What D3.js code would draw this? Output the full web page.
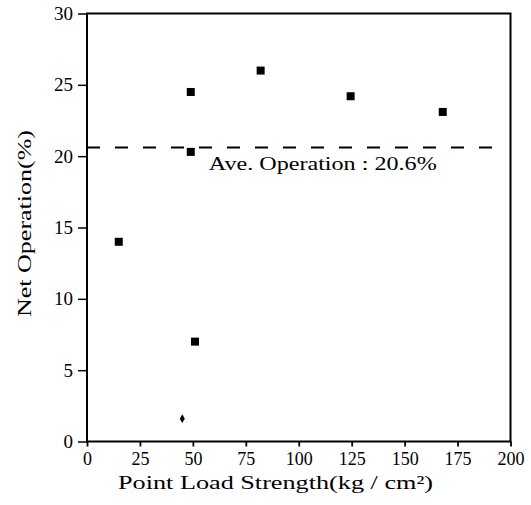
<!DOCTYPE html>
<html>
<head>
<meta charset="utf-8">
<script src="https://cdn.jsdelivr.net/npm/d3@7"></script>
<style>
  html, body { margin: 0; padding: 0; background: #fff; }
  svg { display: block; }
</style>
</head>
<body>
<script>
// Point load strength (kg/cm²) against net operation (%)
const strength = [15, 49, 82, 124.5, 168, 49, 51, 45];
const operation = [14, 24.5, 26, 24.2, 23.1, 20.3, 7, 1.6];
const markerShape = ["square", "square", "square", "square", "square", "square", "square", "diamond"];
const averageOperation = [20.6];
const xTicks = [0, 25, 50, 75, 100, 125, 150, 175, 200];
const yTicks = [0, 5, 10, 15, 20, 25, 30];

const FONT = "'Liberation Serif', 'Times New Roman', 'DejaVu Serif', serif";
const W = 531, H = 505;
const margin = { left: 87, right: 20.5, top: 13.5, bottom: 63.5 };

const svg = d3.select("body").append("svg")
  .attr("width", W).attr("height", H)
  .style("font-family", FONT);

const x = d3.scaleLinear().domain([0, 200]).range([margin.left, W - margin.right]);
const y = d3.scaleLinear().domain([0, 30]).range([H - margin.bottom, margin.top]);

// Frame
svg.append("rect")
  .attr("x", x(0)).attr("y", y(30))
  .attr("width", x(200) - x(0)).attr("height", y(0) - y(30))
  .attr("fill", "none").attr("stroke", "#000").attr("stroke-width", 2);

// X axis
const xAxis = svg.append("g")
  .attr("transform", `translate(0,${y(0)})`)
  .call(d3.axisBottom(x).tickValues(xTicks).tickSize(5).tickPadding(6).tickFormat(d3.format("d")))
  .attr("font-family", FONT).attr("font-size", 18);
xAxis.select(".domain").remove();
xAxis.selectAll("line").attr("stroke", "#000").attr("stroke-width", 1.8);
xAxis.selectAll("text").attr("fill", "#000");

// Y axis
const yAxis = svg.append("g")
  .attr("transform", `translate(${x(0)},0)`)
  .call(d3.axisLeft(y).tickValues(yTicks).tickSize(9).tickPadding(5).tickFormat(d3.format("d")))
  .attr("font-family", FONT).attr("font-size", 19);
yAxis.select(".domain").remove();
yAxis.selectAll("line").attr("stroke", "#000").attr("stroke-width", 1.5);
yAxis.selectAll("text").attr("fill", "#000");

// Average line
svg.append("line")
  .attr("x1", x(0)).attr("x2", x(193))
  .attr("y1", y(averageOperation[0])).attr("y2", y(averageOperation[0]))
  .attr("stroke", "#000").attr("stroke-width", 2)
  .attr("stroke-dasharray", "13,15");

svg.append("text")
  .attr("x", x(57.5)).attr("y", y(averageOperation[0]) + 22)
  .attr("font-family", FONT).attr("font-size", 18)
  .attr("textLength", 228).attr("lengthAdjust", "spacingAndGlyphs")
  .text(`Ave. Operation : ${averageOperation[0]}%`);

// Data points
const pts = strength.map((s, i) => ({ s, o: operation[i], shape: markerShape[i] }));
svg.append("g").selectAll("path")
  .data(pts)
  .join("path")
  .attr("transform", d => `translate(${x(d.s)},${y(d.o)})`)
  .attr("d", d => d.shape === "square"
    ? d3.symbol(d3.symbolSquare, 64)()
    : d3.symbol(d3.symbolDiamond, 22)())
  .attr("fill", "#000");

// Axis titles
svg.append("text")
  .attr("x", 118).attr("y", 489)
  .attr("font-family", FONT).attr("font-size", 19)
  .attr("textLength", 315).attr("lengthAdjust", "spacingAndGlyphs")
  .text("Point Load Strength(kg / cm²)");

svg.append("text")
  .attr("transform", `translate(31,223.5) rotate(-90)`)
  .attr("text-anchor", "middle")
  .attr("font-family", FONT).attr("font-size", 19)
  .attr("textLength", 187).attr("lengthAdjust", "spacingAndGlyphs")
  .text("Net Operation(%)");
</script>
</body>
</html>
